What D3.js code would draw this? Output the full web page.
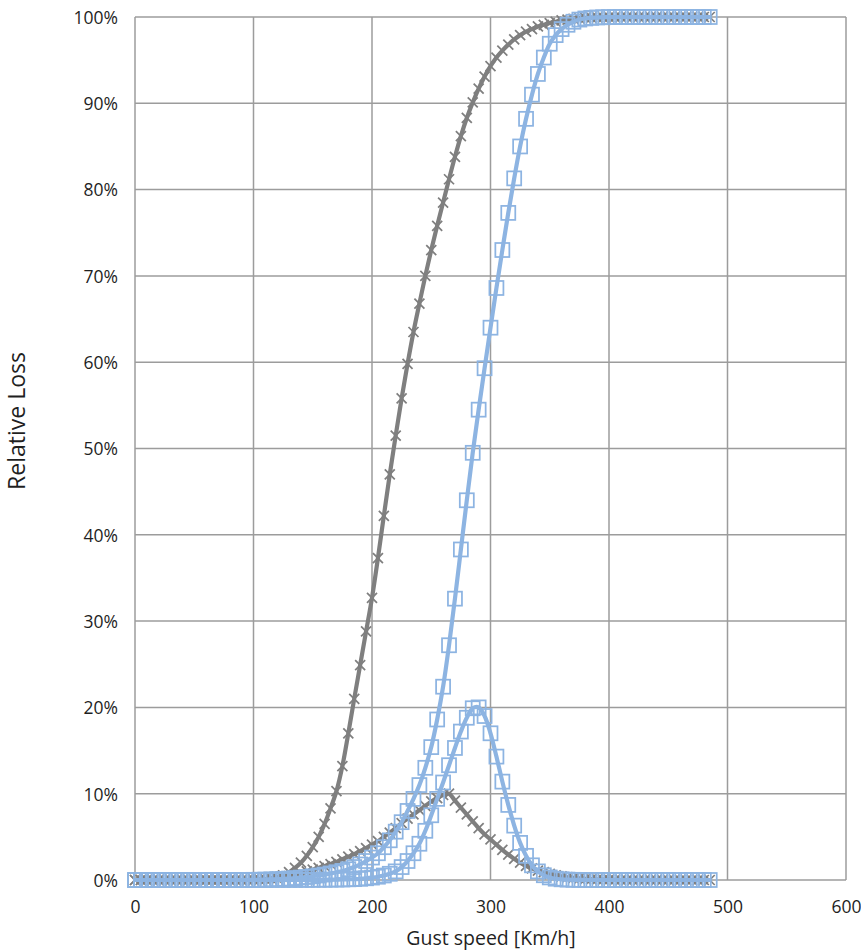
<!DOCTYPE html>
<html>
<head>
<meta charset="utf-8">
<script src="https://cdn.jsdelivr.net/npm/d3@7/dist/d3.min.js"></script>
<style>
  html, body { margin: 0; padding: 0; background: #fff; }
  svg { display: block; }
  text { font-family: "Open Sans", "Noto Sans", sans-serif; fill: #1f1f1f; }
</style>
</head>
<body>
<svg id="chart" width="861" height="950"></svg>
<script>
// Gust speed (km/h) sample points
const speeds = [
  0,5,10,15,20,25,30,35,40,45,50,55,60,65,70,75,80,85,90,95,
  100,105,110,115,120,125,130,135,140,145,150,155,160,165,170,175,180,185,190,195,
  200,205,210,215,220,225,230,235,240,245,250,255,260,265,270,275,280,285,290,295,
  300,305,310,315,320,325,330,335,340,345,350,355,360,365,370,375,380,385,390,395,
  400,405,410,415,420,425,430,435,440,445,450,455,460,465,470,475,480,485
];

// Gray curve (cumulative), percent
const grayCdf = [
  0,0,0,0,0,0,0,0,0,0,0,0,0,0,0,0,0,0,0,0,
  0,0.05,0.1,0.2,0.35,0.55,0.9,1.4,2.0,2.8,3.8,5.0,6.5,8.3,10.3,13.2,17.0,21.0,24.9,28.8,
  32.7,37.3,42.2,47.0,51.5,55.8,59.8,63.5,66.8,70.0,73.0,75.8,78.5,81.2,83.8,86.2,88.3,90.1,91.7,93.1,
  94.3,95.3,96.1,96.8,97.4,97.9,98.3,98.6,98.9,99.1,99.3,99.45,99.6,99.7,99.78,99.84,99.89,99.93,99.95,99.97,
  99.98,99.99,100,100,100,100,100,100,100,100,100,100,100,100,100,100,100,100
];

// Gray curve (peaked), percent
const grayPdf = [
  0,0,0,0,0,0,0,0,0,0,0,0,0,0,0,0,0,0,0,0,
  0.05,0.07,0.1,0.15,0.2,0.3,0.45,0.6,0.8,1.0,1.2,1.4,1.6,1.85,2.1,2.4,2.7,3.0,3.35,3.7,
  4.1,4.5,5.0,5.5,6.0,6.6,7.1,7.6,8.1,8.6,9.1,9.5,9.85,10.0,9.2,8.4,7.6,6.8,6.0,5.3,
  4.7,4.1,3.5,2.95,2.45,2.0,1.65,1.35,1.1,0.9,0.7,0.55,0.42,0.32,0.24,0.18,0.13,0.09,0.06,0.04,
  0.03,0.02,0,0,0,0,0,0,0,0,0,0,0,0,0,0,0,0
];

// Blue curve (cumulative), percent
const blueCdf = [
  0,0,0,0,0,0,0,0,0,0,0,0,0,0,0,0,0,0,0,0,
  0.02,0.03,0.05,0.07,0.1,0.13,0.17,0.22,0.28,0.35,0.43,0.52,0.63,0.76,0.9,1.05,1.25,1.5,1.8,2.2,
  2.6,3.1,3.8,4.6,5.6,6.7,8.0,9.4,11.0,13.0,15.4,18.6,22.4,27.2,32.6,38.3,44.0,49.5,54.5,59.3,
  64.0,68.6,73.0,77.3,81.3,85.0,88.2,91.0,93.4,95.3,96.9,97.9,98.6,99.1,99.45,99.7,99.83,99.9,99.95,99.97,
  99.99,100,100,100,100,100,100,100,100,100,100,100,100,100,100,100,100,100
];

// Blue curve (peaked), percent
const bluePdf = [
  0,0,0,0,0,0,0,0,0,0,0,0,0,0,0,0,0,0,0,0,
  0,0,0,0.01,0.01,0.01,0.01,0.01,0.02,0.02,0.02,0.03,0.03,0.04,0.05,0.06,0.08,0.1,0.14,0.2,
  0.28,0.38,0.52,0.72,1.0,1.5,2.2,3.1,4.2,5.7,7.5,9.4,11.3,13.3,15.3,17.2,18.8,19.9,20.0,19.0,
  17.0,14.3,11.4,8.7,6.3,4.3,2.8,1.7,1.0,0.55,0.3,0.15,0.08,0.04,0.02,0.01,0,0,0,0,
  0,0,0,0,0,0,0,0,0,0,0,0,0,0,0,0,0,0
];

const xTicks = [0, 100, 200, 300, 400, 500, 600];
const yTicks = [0, 10, 20, 30, 40, 50, 60, 70, 80, 90, 100];

const GRAY = "#7f7f7f";
const BLUE = "#8db4e2";
const GRID = "#9c9c9c";

const svg = d3.select("#chart");
const plot = { left: 135, right: 846, top: 17, bottom: 880 };

const x = d3.scaleLinear().domain([0, 600]).range([plot.left, plot.right]);
const y = d3.scaleLinear().domain([0, 100]).range([plot.bottom, plot.top]);

// Grid lines
const g = svg.append("g");
g.selectAll("line.h").data(yTicks).join("line")
  .attr("x1", plot.left).attr("x2", plot.right)
  .attr("y1", d => y(d)).attr("y2", d => y(d))
  .attr("stroke", GRID).attr("stroke-width", 1.5);
g.selectAll("line.v").data(xTicks).join("line")
  .attr("y1", plot.top).attr("y2", plot.bottom)
  .attr("x1", d => x(d)).attr("x2", d => x(d))
  .attr("stroke", GRID).attr("stroke-width", 1.5);

// Axes (labels only)
const xAxis = d3.axisBottom(x).tickValues(xTicks).tickSize(0).tickPadding(0).tickFormat(d3.format("d"));
const xg = svg.append("g").attr("transform", `translate(0,${plot.bottom})`).call(xAxis);
xg.select(".domain").remove();
xg.selectAll("text").attr("dy", null).attr("y", 33).style("font-size", "17.5px")
  .style("font-family", "'Open Sans', sans-serif").attr("fill", "#1f1f1f");

const yAxis = d3.axisLeft(y).tickValues(yTicks).tickSize(0).tickPadding(0)
  .tickFormat(d => d + "%");
const yg = svg.append("g").attr("transform", `translate(118,0)`).call(yAxis);
yg.select(".domain").remove();
yg.selectAll("text").attr("dy", "0.36em").attr("x", 0).style("font-size", "17.5px")
  .style("font-family", "'Open Sans', sans-serif").attr("fill", "#1f1f1f");

// Titles
svg.append("text").attr("x", 491).attr("y", 945).attr("text-anchor", "middle")
  .style("font-size", "19.5px").text("Gust speed [Km/h]");
svg.append("text").attr("transform", "translate(25,421) rotate(-90)").attr("text-anchor", "middle")
  .style("font-size", "23px").text("Relative Loss");

const line = d3.line().x(d => x(d[0])).y(d => y(d[1])).curve(d3.curveCatmullRom.alpha(0.5));

function drawSeries(values, color, marker) {
  const pts = speeds.map((s, i) => [s, values[i]]);
  svg.append("path").datum(pts).attr("d", line)
    .attr("fill", "none").attr("stroke", color).attr("stroke-width", 4.2)
    .attr("stroke-linejoin", "round").attr("stroke-linecap", "round");
  const mg = svg.append("g");
  if (marker === "x") {
    mg.selectAll("path").data(pts).join("path")
      .attr("transform", d => `translate(${x(d[0])},${y(d[1])})`)
      .attr("d", "M-5,-5L5,5M-5,5L5,-5")
      .attr("stroke", color).attr("stroke-width", 1.75).attr("fill", "none");
  } else {
    mg.selectAll("rect").data(pts).join("rect")
      .attr("x", d => x(d[0]) - 7).attr("y", d => y(d[1]) - 7)
      .attr("width", 14).attr("height", 14)
      .attr("stroke", color).attr("stroke-width", 1.75).attr("fill", "none");
  }
}

drawSeries(grayCdf, GRAY, "x");
drawSeries(grayPdf, GRAY, "x");
drawSeries(blueCdf, BLUE, "square");
drawSeries(bluePdf, BLUE, "square");
</script>
</body>
</html>
